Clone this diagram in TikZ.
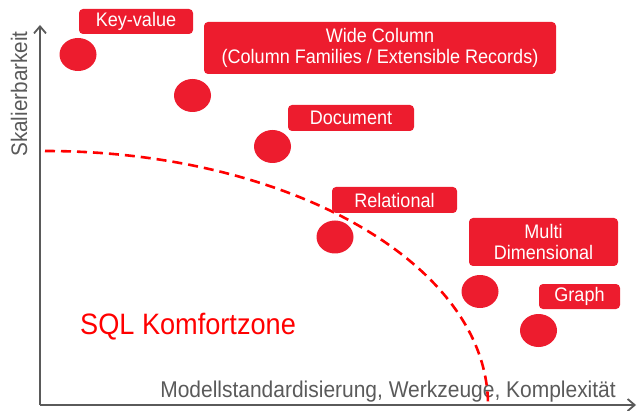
\documentclass[tikz,border=0pt]{standalone}
\usepackage{fontspec}
\setmainfont{Liberation Sans}[FakeStretch=0.92]
\usetikzlibrary{shapes.geometric,arrows.meta}

\definecolor{dbred}{RGB}{237,28,46}
\definecolor{zonered}{RGB}{255,0,0}
\definecolor{axisgrey}{RGB}{90,90,90}

\tikzset{
  axisline/.style={draw=axisgrey, line width=1.8pt, -{Straight Barb[length=7pt,width=12pt]}},
  dbdot/.style={ellipse, fill=dbred, inner sep=0pt, minimum width=37pt, minimum height=33pt},
  dbtag/.style={rectangle, rounded corners=4pt, fill=dbred, text=white, inner sep=0pt,
    align=center, font=\fontsize{19.6}{21}\selectfont},
  axislabel/.style={text=axisgrey, inner sep=0pt, font=\fontsize{22.8}{26}\selectfont},
  zoneline/.style={draw=zonered, line width=2.6pt, dash pattern=on 10pt off 6pt},
}

\begin{document}
\begin{tikzpicture}[x=1pt,y=1pt]
  \useasboundingbox (0,0) rectangle (637,410);

  % axes
  \coordinate (origin) at (40,5);
  \coordinate (ytop) at (40,385);
  \coordinate (xend) at (636,5);
  \draw[axisline] (origin) -- (ytop);
  \draw[axisline] (origin) -- (xend);

  \node[axislabel, rotate=90, font=\fontsize{22.5}{26}\selectfont] (ylab) at (19,316) {Skalierbarkeit};
  \node[axislabel, anchor=base east] (xlab) at (616,13) {Modellstandardisierung, Werkzeuge, Komplexität};

  % comfort zone boundary: quarter ellipse
  \coordinate (zonestart) at (45,259);
  \draw[zoneline] (zonestart) arc[start angle=90, end angle=0, x radius=443pt, y radius=254pt];
  \node[text=zonered, inner sep=0pt, anchor=base west, font=\fontsize{29.5}{34}\selectfont]
    (zone) at (80,76) {SQL Komfortzone};

  % database families
  \node[dbdot] (c1) at (78,355.5) {};
  \node[dbdot] (c2) at (192.5,314.5) {};
  \node[dbdot] (c3) at (272.5,263.5) {};
  \node[dbdot] (c4) at (335,173) {};
  \node[dbdot] (c5) at (480,118.5) {};
  \node[dbdot] (c6) at (538.5,79.5) {};

  \node[dbtag, minimum width=114pt, minimum height=25pt] (keyvalue) at (136,388.5) {Key-value};
  \node[dbtag, minimum width=352pt, minimum height=52pt] (widecol) at (380,362)
    {Wide Column\\(Column Families / Extensible Records)};
  \node[dbtag, minimum width=126pt, minimum height=26pt] (document) at (351,292) {Document};
  \node[dbtag, minimum width=125pt, minimum height=26pt] (relational) at (394.5,210) {Relational};
  \node[dbtag, minimum width=149pt, minimum height=48pt] (multidim) at (543.5,168) {Multi\\Dimensional};
  \node[dbtag, minimum width=81pt, minimum height=25pt] (graph) at (579.5,113.5) {Graph};
\end{tikzpicture}
\end{document}
